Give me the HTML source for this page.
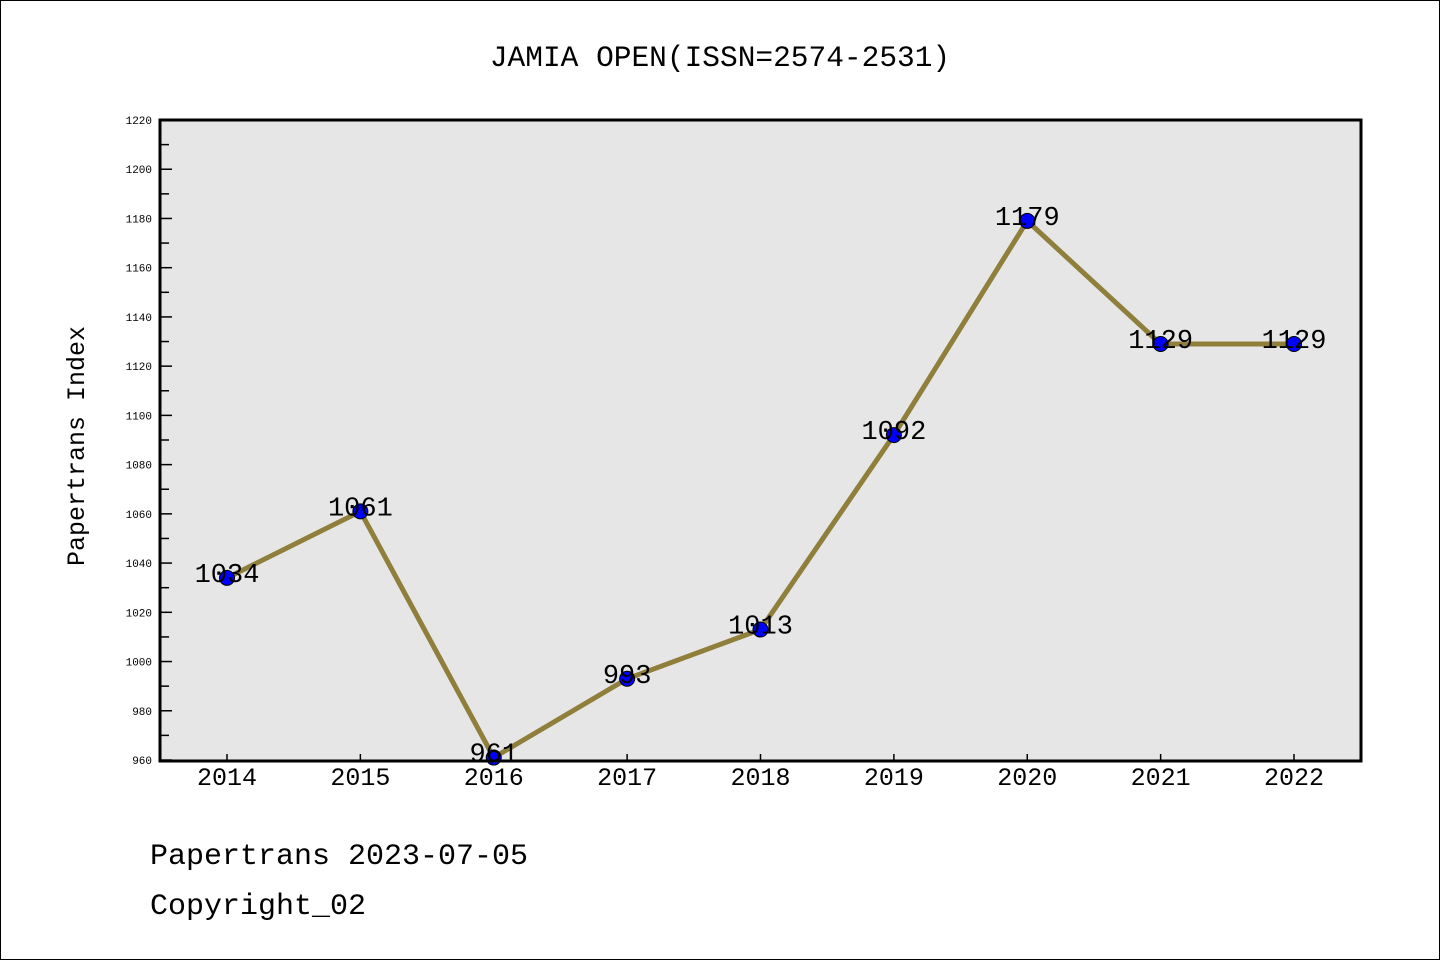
<!DOCTYPE html>
<html><head><meta charset="utf-8"><style>
body{margin:0;background:#fff}
svg{display:block}
text{font-family:"Liberation Mono","DejaVu Sans Mono",monospace;fill:#000}
</style></head><body>
<svg id="chart" width="1440" height="960" xmlns="http://www.w3.org/2000/svg">
<rect x="0.5" y="0.5" width="1439" height="959" fill="#fff" stroke="#000"/>
<text x="720" y="66" font-size="29.5" text-anchor="middle">JAMIA OPEN(ISSN=2574-2531)</text>
<rect x="160" y="120" width="1201" height="641" fill="#e6e6e6"/>
<g id="axes"></g>
<g id="series"></g>
<rect x="160" y="120" width="1201" height="641" fill="none" stroke="#000" stroke-width="3"/>
<text transform="translate(84,446) rotate(-90)" font-size="25" text-anchor="middle">Papertrans Index</text>
<text x="150" y="864" font-size="30">Papertrans 2023-07-05</text>
<text x="150" y="914" font-size="30">Copyright_02</text>
</svg>
<script>
const years=[2014,2015,2016,2017,2018,2019,2020,2021,2022];
const values=[1034,1061,961,993,1013,1092,1179,1129,1129];
const yTicks=[960,980,1000,1020,1040,1060,1080,1100,1120,1140,1160,1180,1200,1220];
const NS="http://www.w3.org/2000/svg";
const yMin=960,yMax=1220,plotTop=120,plotBot=760;
function ys(v){return plotBot-(v-yMin)/(yMax-yMin)*(plotBot-plotTop);}
function xs(i){return 227+i*133.375;}
function mk(tag,attrs,parent){const e=document.createElementNS(NS,tag);for(const k in attrs)e.setAttribute(k,attrs[k]);parent.appendChild(e);return e;}
const ax=document.getElementById('axes'),se=document.getElementById('series');
yTicks.forEach((v,i)=>{
  const y=ys(v);
  const t=mk('line',{x1:160,x2:172,y1:y,y2:y,stroke:'#000','stroke-width':1.5},ax);
  
  
  const l=mk('text',{x:152,y:y+4,'font-size':11,'text-anchor':'end'},ax);
  
  
  l.textContent=v;
  if(i<yTicks.length-1){
    const ym=ys(v+10);
    const m=mk('line',{x1:160,x2:169,y1:ym,y2:ym,stroke:'#000','stroke-width':1.5},ax);
    
    
  }
});
years.forEach((yr,i)=>{
  const x=xs(i);
  const t=mk('line',{x1:x,x2:x,y1:761,y2:754,stroke:'#000','stroke-width':1.5},ax);
  
  
  const l=mk('text',{x:x,y:785,'font-size':25,'text-anchor':'middle'},ax);
  
  
  l.textContent=yr;
});
const pl=mk('polyline',{points:values.map((v,i)=>xs(i)+','+ys(v)).join(' '),fill:'none',stroke:'#8f7f3a','stroke-width':5},se);


values.forEach((v,i)=>{
  const c=mk('circle',{cx:xs(i),cy:ys(v),r:7.5,fill:'#0000ff',stroke:'#000','stroke-width':1},se);
  
  
  const l=mk('text',{x:xs(i),y:ys(v)+4,'font-size':27,'text-anchor':'middle'},se);
  
  
  l.textContent=v;
});
</script>
</body></html>
